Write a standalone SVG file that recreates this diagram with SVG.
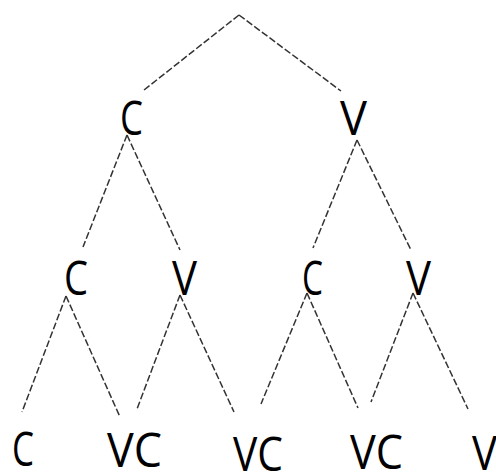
<svg xmlns="http://www.w3.org/2000/svg" width="496" height="472" viewBox="0 0 496 472">
<style>
.e{stroke:#333;stroke-width:1.5;stroke-dasharray:7 2.5;fill:none}
.t{font-family:"Open Sans","Liberation Sans",sans-serif;font-size:47px;fill:#000;font-weight:400}
</style>
<rect width="496" height="472" fill="#fff"/>
<g id="connectors">
<line class="e" x1="239" y1="15" x2="144" y2="90"/>
<line class="e" x1="239" y1="15" x2="341" y2="91"/>
<line class="e" x1="127" y1="135" x2="83" y2="247"/>
<line class="e" x1="127" y1="135" x2="180" y2="250"/>
<line class="e" x1="357" y1="140" x2="313" y2="248"/>
<line class="e" x1="357" y1="140" x2="411" y2="250"/>
<line class="e" x1="66" y1="296" x2="22" y2="412"/>
<line class="e" x1="66" y1="296" x2="120" y2="417"/>
<line class="e" x1="180" y1="295" x2="137" y2="409"/>
<line class="e" x1="180" y1="295" x2="234" y2="412"/>
<line class="e" x1="307" y1="293" x2="261" y2="404"/>
<line class="e" x1="307" y1="293" x2="358" y2="408"/>
<line class="e" x1="413" y1="293" x2="371" y2="402"/>
<line class="e" x1="413" y1="293" x2="468" y2="409"/>
</g>
<g id="n1"><text class="t" x="120" y="135" textLength="23" lengthAdjust="spacingAndGlyphs">C</text></g>
<g id="n2"><text class="t" x="340" y="135" textLength="27" lengthAdjust="spacingAndGlyphs">V</text></g>
<g id="n3"><text class="t" x="64" y="295" textLength="24" lengthAdjust="spacingAndGlyphs">C</text></g>
<g id="n4"><text class="t" x="172" y="295" textLength="25" lengthAdjust="spacingAndGlyphs">V</text></g>
<g id="n5"><text class="t" x="302" y="295" textLength="21" lengthAdjust="spacingAndGlyphs">C</text></g>
<g id="n6"><text class="t" x="406" y="295" textLength="25" lengthAdjust="spacingAndGlyphs">V</text></g>
<g id="n7"><text class="t" x="12" y="466" textLength="22" lengthAdjust="spacingAndGlyphs">C</text></g>
<g id="n8"><text class="t" x="107" y="467" textLength="55" lengthAdjust="spacingAndGlyphs">VC</text></g>
<g id="n9"><text class="t" x="233" y="471" textLength="50" lengthAdjust="spacingAndGlyphs">VC</text></g>
<g id="n10"><text class="t" x="350" y="469" textLength="53" lengthAdjust="spacingAndGlyphs">VC</text></g>
<g id="n11"><text class="t" x="472" y="470" textLength="25" lengthAdjust="spacingAndGlyphs">V</text></g>
</svg>
